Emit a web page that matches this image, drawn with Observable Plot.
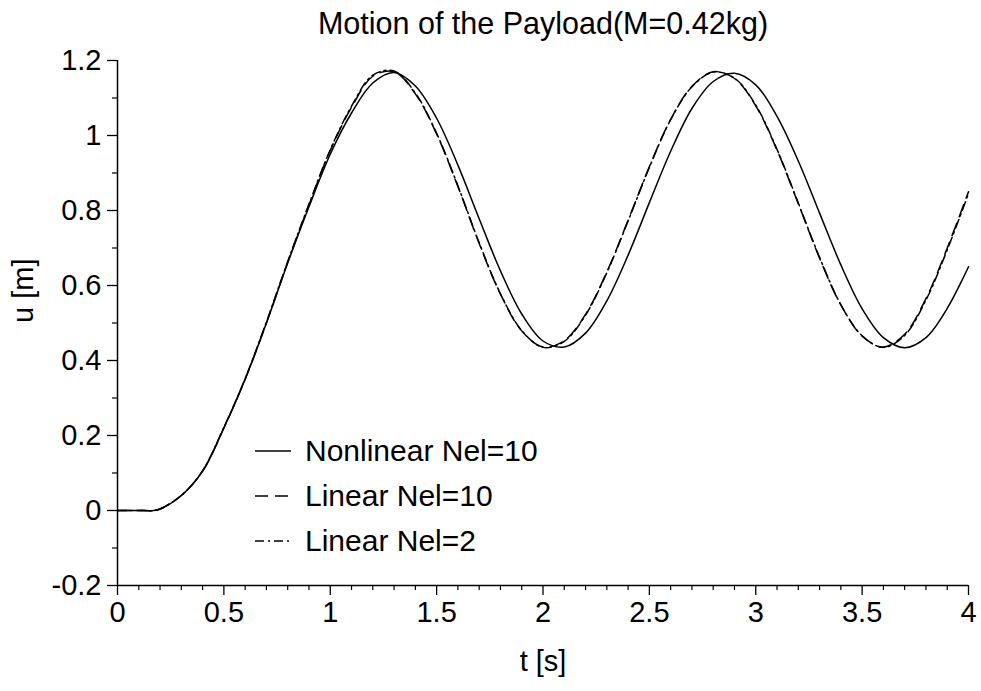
<!DOCTYPE html>
<html><head><meta charset="utf-8">
<script src="https://cdn.jsdelivr.net/npm/d3@7"></script>
<script src="https://cdn.jsdelivr.net/npm/@observablehq/plot@0.6"></script>
<style>
body{margin:0;background:#fff;}
#wrap{position:relative;width:981px;height:691px;font-family:"Liberation Sans",Arial,sans-serif;}
#legend{position:absolute;left:255px;top:428px;}
.row{display:flex;align-items:center;height:45px;font-size:30px;color:#000;}
.row svg{margin-right:14px;}
</style></head><body><div id="wrap"><div id="legend"></div></div>
<script>
const title = "Motion of the Payload(M=0.42kg)";
const xLabel = "t [s]";
const yLabel = "u [m]";
const xTicks = [0, 0.5, 1, 1.5, 2, 2.5, 3, 3.5, 4];
const yTicks = [-0.2, 0, 0.2, 0.4, 0.6, 0.8, 1, 1.2];
const seriesNames = ["Nonlinear Nel=10", "Linear Nel=10", "Linear Nel=2"];
const dashes = ["none", "13,7", "9,4,2,4"];

const t = [0, 0.1, 0.17, 0.2, 0.3, 0.4, 0.5, 0.6, 0.7, 0.8, 0.9, 1.0, 1.1, 1.2, 1.3, 1.4, 1.5, 1.6, 1.7, 1.8, 1.9, 2.0,
  2.1, 2.2, 2.3, 2.4, 2.5, 2.6, 2.7, 2.8, 2.9, 3.0, 3.1, 3.2, 3.3, 3.4, 3.5, 3.6, 3.7, 3.8, 3.9, 4.0];
const nonlinear10 = [0, 0, 0, 0.004, 0.04, 0.105, 0.22, 0.35, 0.50, 0.66, 0.81, 0.95, 1.06, 1.14, 1.168, 1.132, 1.046, 0.921, 0.778, 0.639, 0.524, 0.452,
  0.436, 0.473, 0.559, 0.681, 0.821, 0.958, 1.072, 1.144, 1.166, 1.135, 1.051, 0.932, 0.793, 0.655, 0.538, 0.461, 0.434, 0.461, 0.539, 0.65];
const linear10 = [0, 0, 0, 0.004, 0.04, 0.105, 0.22, 0.35, 0.50, 0.662, 0.815, 0.96, 1.075, 1.158, 1.170, 1.111, 1.004, 0.864, 0.712, 0.577, 0.479, 0.436,
  0.453, 0.523, 0.636, 0.774, 0.917, 1.043, 1.131, 1.170, 1.152, 1.079, 0.961, 0.818, 0.673, 0.548, 0.465, 0.436, 0.47, 0.565, 0.70, 0.85];
const linear2 = [0, 0, 0, 0.004, 0.04, 0.106, 0.222, 0.352, 0.503, 0.664, 0.817, 0.962, 1.078, 1.161, 1.172, 1.113, 1.006, 0.866, 0.714, 0.578, 0.480, 0.435,
  0.451, 0.521, 0.634, 0.772, 0.915, 1.042, 1.130, 1.169, 1.153, 1.081, 0.963, 0.820, 0.675, 0.549, 0.466, 0.435, 0.467, 0.561, 0.695, 0.845];

const seriesValues = [nonlinear10, linear10, linear2];
const data = seriesValues.map(vals => t.map((tt, i) => ({t: tt, u: vals[i]})));
const xMinor = d3.range(1, 40).filter(i => i % 5 !== 0).map(i => i / 10);
const yMinor = d3.range(-1, 12).filter(i => i % 2 !== 0).map(i => i / 10);

const font = "'Liberation Sans', Arial, sans-serif";
const chart = Plot.plot({
  width: 981, height: 691,
  marginTop: 60, marginLeft: 117, marginRight: 13, marginBottom: 106,
  style: {fontFamily: font, fontSize: "29px", color: "#000", background: "#fff", overflow: "visible"},
  x: {domain: [0, 4]},
  y: {domain: [-0.2, 1.2]},
  marks: [
    Plot.axisX({ticks: xTicks, tickSize: 10, tickPadding: 6, tickFormat: d => String(d), label: null, strokeWidth: 1.3, fontSize: 29}),
    Plot.axisX({ticks: xMinor, tickSize: 5, tickFormat: () => "", label: null, strokeWidth: 1.2}),
    Plot.axisY({ticks: yTicks, tickSize: 10, tickPadding: 6, tickFormat: d => String(d), label: null, strokeWidth: 1.3, fontSize: 29}),
    Plot.axisY({ticks: yMinor, tickSize: 5, tickFormat: () => "", label: null, strokeWidth: 1.2}),
    Plot.ruleX([0], {strokeWidth: 1.5}),
    Plot.ruleY([-0.2], {strokeWidth: 1.5}),
    ...data.map((d, i) => Plot.line(d, {x: "t", y: "u", stroke: "#000", strokeWidth: 1.5,
      strokeDasharray: dashes[i] === "none" ? null : dashes[i], curve: "catmull-rom"})),
    Plot.text([title], {frameAnchor: "top", lineAnchor: "middle", dy: -36, fontSize: 30.5}),
    Plot.text([xLabel], {frameAnchor: "bottom", lineAnchor: "middle", dy: 76, fontSize: 29}),
    Plot.text([yLabel], {frameAnchor: "left", lineAnchor: "middle", dx: -94, rotate: -90, fontSize: 29})
  ]
});
const wrap = document.getElementById("wrap");
wrap.insertBefore(chart, wrap.firstChild);

const legend = document.getElementById("legend");
seriesNames.forEach((name, i) => {
  const row = document.createElement("div");
  row.className = "row";
  const da = dashes[i] === "none" ? "" : ` stroke-dasharray="${dashes[i]}"`;
  row.innerHTML = `<svg width="36" height="10"><line x1="0" x2="36" y1="5" y2="5" stroke="#000" stroke-width="1.5"${da}/></svg><span>${name}</span>`;
  legend.appendChild(row);
});
</script>
</body></html>
